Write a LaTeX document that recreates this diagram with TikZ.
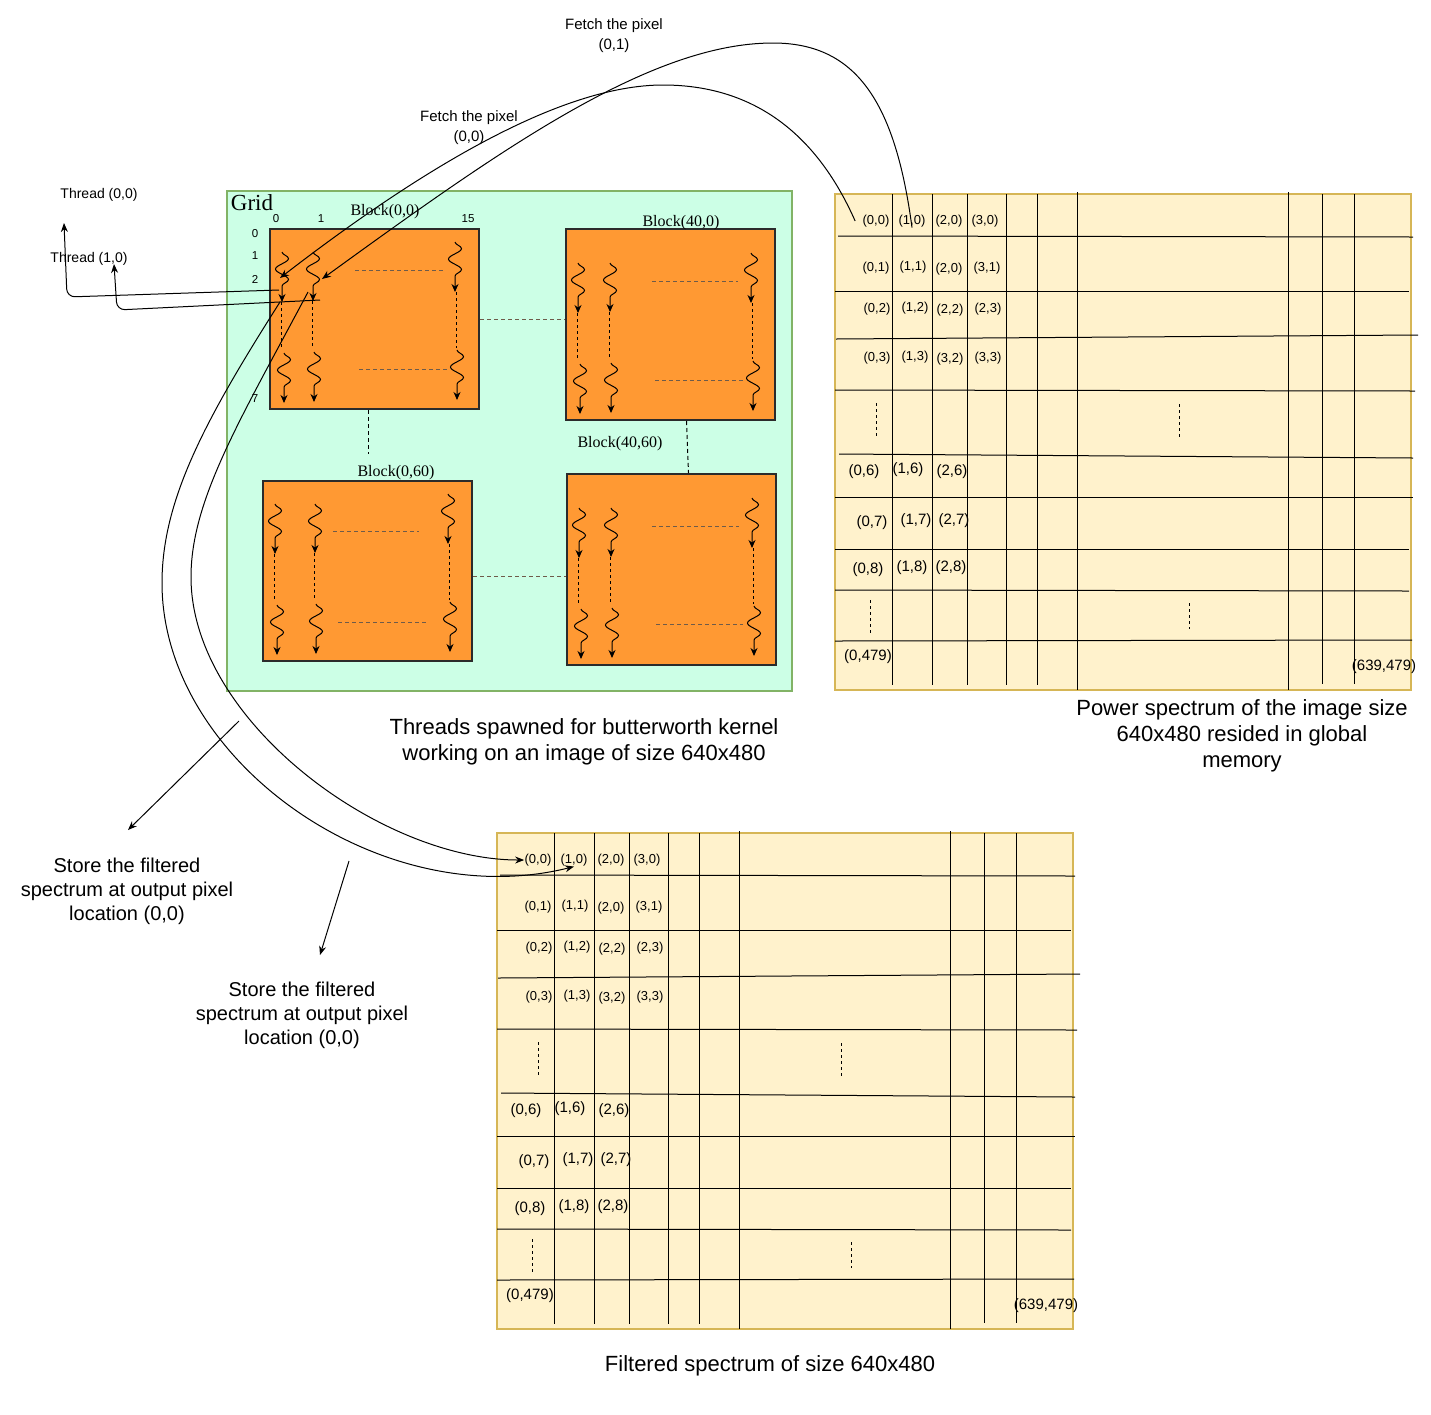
\documentclass[tikz,border=0pt]{standalone}
\usepackage{fontspec}
\setmainfont{Liberation Sans}
\newfontfamily\serifont{Liberation Serif}
\usetikzlibrary{arrows.meta,decorations.pathmorphing}
\definecolor{gridfill}{HTML}{CCFFE6}
\definecolor{gridedge}{HTML}{82B366}
\definecolor{blockfill}{HTML}{FF9933}
\definecolor{blockedge}{HTML}{2B2B2B}
\definecolor{tabfill}{HTML}{FFF2CC}
\definecolor{tabedge}{HTML}{D6B656}
\definecolor{dashc}{HTML}{6E5B4A}
\newcommand\setfs[2]{\fontsize{#1}{#2}\selectfont}
\tikzset{
  gridbox/.style={fill=gridfill,draw=gridedge,line width=2pt},
  blockbox/.style={fill=blockfill,draw=blockedge,line width=2pt,minimum width=209pt,inner sep=0pt},
  tablebox/.style={fill=tabfill,draw=tabedge,line width=2pt},
  tline/.style={draw=black,line width=1pt},
  lbl/.style={inner sep=0pt,font=\setfs{13}{15}},
  lblb/.style={inner sep=0pt,font=\setfs{15}{18}},
  blbl/.style={inner sep=0pt,font=\serifont\setfs{16}{19}},
  tiny/.style={inner sep=0pt,font=\setfs{11.5}{14}},
  wave/.style={decorate,decoration={snake,amplitude=6.5pt,segment length=21pt,post length=8pt},-{Stealth[length=8pt,width=7pt]}},
  tdash/.style={dash pattern=on 3pt off 3pt,line width=1pt},
  hdash/.style={dash pattern=on 4pt off 3pt,draw=dashc,line width=1pt},
  conn/.style={line width=1pt,-{Stealth[length=9pt,width=7pt]}},
}
% threads inside a block: origin x, origin y, column-2 x offset
\newcommand\drawthreads[3]{%
\begin{scope}[shift={(#1,#2)}]
  \draw[wave] (12,23) -- (12,73);
  \draw[tdash] (11,73) -- (11,118);
  \draw[wave] (14,124) -- (14,174);
  \draw[wave] (#3,23) -- (#3,72);
  \draw[tdash] ({#3-1},72) -- ({#3-1},118);
  \draw[wave] ({#3+1},123) -- ({#3+1},173);
  \draw[wave] (185,13) -- (185,63);
  \draw[tdash] (186,63) -- (186,119);
  \draw[wave] (187,121) -- (187,171);
\end{scope}}
% spectrum table: shift x, shift y, name prefix
\newcommand\spectable[3]{%
\begin{scope}[shift={(#1,#2)}]
  \draw[tablebox] (835,194) rectangle (1411,690);
  \foreach \xx/\ya/\yb in {892/194/685,932/194/685,967/194/685,1006/194/685,1037/194/685,1077/192/690,1288/192/690,1322/194/684,1354/194/684}
    \draw[tline] (\xx,\ya) -- (\xx,\yb);
  \draw[tline] (838,236) -- (1413,237);
  \draw[tline] (835,291) -- (1409,291);
  \draw[tline] (836,339) -- (1418,335);
  \draw[tline] (835,390) -- (1415,391);
  \draw[tline] (839,454) -- (1413,458);
  \draw[tline] (835,497) -- (1413,497);
  \draw[tline] (835,549) -- (1409,549);
  \draw[tline] (835,590) -- (1409,591);
  \draw[tline] (835,641) -- (1412,640);
  \node[lbl] (#3-00) at (876,221) {(0,0)};
  \node[lbl] (#3-10) at (912,221) {(1,0)};
  \node[lbl] (#3-20) at (949,221) {(2,0)};
  \node[lbl] (#3-30) at (985,221) {(3,0)};
  \node[lbl] (#3-01) at (876,268) {(0,1)};
  \node[lbl] (#3-11) at (913,267) {(1,1)};
  \node[lbl] (#3-21) at (949,269) {(2,0)};
  \node[lbl] (#3-31) at (987,268) {(3,1)};
  \node[lbl] (#3-02) at (877,309) {(0,2)};
  \node[lbl] (#3-12) at (915,308) {(1,2)};
  \node[lbl] (#3-22) at (950,310) {(2,2)};
  \node[lbl] (#3-32) at (988,309) {(2,3)};
  \node[lbl] (#3-03) at (877,358) {(0,3)};
  \node[lbl] (#3-13) at (915,357) {(1,3)};
  \node[lbl] (#3-23) at (950,359) {(3,2)};
  \node[lbl] (#3-33) at (988,358) {(3,3)};
  \draw[tdash] (876,403) -- (876,438);
  \draw[tdash] (1179,404) -- (1179,437);
  \node[lblb] (#3-06) at (864,472) {(0,6)};
  \node[lblb] (#3-16) at (908,470) {(1,6)};
  \node[lblb] (#3-26) at (952,472) {(2,6)};
  \node[lblb] (#3-07) at (872,523) {(0,7)};
  \node[lblb] (#3-17) at (916,521) {(1,7)};
  \node[lblb] (#3-27) at (954,521) {(2,7)};
  \node[lblb] (#3-08) at (868,570) {(0,8)};
  \node[lblb] (#3-18) at (912,568) {(1,8)};
  \node[lblb] (#3-28) at (951,568) {(2,8)};
  \draw[tdash] (870,600) -- (870,633);
  \draw[tdash] (1189,603) -- (1189,629);
  \node[lblb] (#3-0479) at (868,657) {(0,479)};
  \node[lblb] (#3-last) at (1384,667) {(639,479)};
\end{scope}}
\begin{document}
\begin{tikzpicture}[x=1pt,y=-1pt,line width=1pt]
\useasboundingbox (0,0) rectangle (1431,1414);
\fill[white] (0,0) rectangle (1431,1414);

% ---------- grid ----------
\draw[gridbox] (227,191) rectangle (792,691);
\node[inner sep=0pt,font=\serifont\setfs{23}{26}] (gridlbl) at (252,203) {Grid};

\node[blockbox,minimum height=180pt] (b00) at (374.5,319) {};
\node[blockbox,minimum height=191pt] (b400) at (670.5,324.5) {};
\node[blockbox,minimum height=180pt] (b060) at (367.5,571) {};
\node[blockbox,minimum height=191pt] (b4060) at (671.5,569.5) {};

\node[blbl] (lb00) at (385,212) {Block(0,0)};
\node[blbl] (lb400) at (681,223) {Block(40,0)};
\node[blbl] (lb4060) at (620,444) {Block(40,60)};
\node[blbl] (lb060) at (396,473) {Block(0,60)};

% dashed links between blocks
\draw[hdash] (b00.east) -- (b00.east -| b400.west);
\coordinate (d1) at ([xshift=-6.5pt]b00.south);
\draw[hdash,draw=black] (d1) -- ++(0,44);
\draw[hdash,draw=black] ([xshift=16pt]b400.south) -- ([xshift=17pt]b4060.north);
\draw[hdash] ([yshift=-5pt]b060.east) -- ([yshift=-5pt]b060.east -| b4060.west);

% thread index labels
\node[tiny] (c0) at (276,219) {0};
\node[tiny] (c1) at (321,219) {1};
\node[tiny] (c15) at (468,219) {15};
\node[tiny] (r0) at (255,234) {0};
\node[tiny] (r1) at (255,256) {1};
\node[tiny] (r2) at (255,279) {2};
\node[tiny] (r7) at (255,399) {7};

% threads
\drawthreads{270}{229}{43}
\drawthreads{566}{240}{44}
\drawthreads{263}{481}{52}
\drawthreads{567}{485}{44}

\draw[hdash] (355,270) -- (443,270);
\draw[hdash] (359,369) -- (447,369);
\draw[hdash] (652,281) -- (738,281);
\draw[hdash] (655,380) -- (743,380);
\draw[hdash] (333,531) -- (419,531);
\draw[hdash] (338,622) -- (426,622);
\draw[hdash] (652,526) -- (739,526);
\draw[hdash] (656,624) -- (743,624);

% ---------- tables ----------
\spectable{0}{0}{r}
\spectable{-338}{639}{b}

% ---------- captions ----------
\node[align=center,font=\setfs{22}{26}] (cap1) at (584,742) {Threads spawned for butterworth kernel\\working on an image of size 640x480};
\node[align=center,font=\setfs{22}{26}] (cap2) at (1242,736) {Power spectrum of the image size\\640x480 resided in global\\memory};
\node[font=\setfs{22}{26}] (cap3) at (770,1366) {Filtered spectrum of size 640x480};
\node[align=center,font=\setfs{20}{24}] (st1) at (127,891) {Store the filtered\\spectrum at output pixel\\location (0,0)};
\node[align=center,font=\setfs{20}{24}] (st2) at (302,1015) {Store the filtered\\spectrum at output pixel\\location (0,0)};
\node[align=center,font=\setfs{15}{20}] (f01) at (614,36) {Fetch the pixel\\(0,1)};
\node[align=center,font=\setfs{15}{20}] (f00) at (469,127.5) {Fetch the pixel\\(0,0)};
\node[font=\setfs{14}{17}] (th00) at (99,195) {Thread (0,0)};
\node[font=\setfs{14}{17}] (th10) at (89,259) {Thread (1,0)};

% ---------- connectors ----------
\coordinate (t0) at (280,278);
\coordinate (t1) at (322,279);
\coordinate (s0) at (279,290);
\coordinate (s1) at (320,300);
\coordinate (e0) at (64,223);
\coordinate (e1) at (114,264);
\coordinate (o0) at (280,302);
\coordinate (o1) at (308,292);

\draw[conn] ([xshift=-7pt]r-00.west) .. controls (815,130) and (750,85) .. (663,85)
  .. controls (560,85) and (420,170) .. (t0);
\draw[conn] (r-10.south) .. controls (895,100) and (855,43) .. (773,43)
  .. controls (650,43) and (500,150) .. (t1);

\draw[conn,rounded corners=8pt] (s0) -- (67,297) -- (e0);
\draw[conn,rounded corners=8pt] (s1) -- (117,310) -- (e1);

\draw[conn] (o0) .. controls (205,420) and (162,500) .. (162,583)
  .. controls (162,760) and (380,915) .. (b-10.south);
\draw[conn] (o1) .. controls (240,420) and (191,500) .. (191,577)
  .. controls (191,720) and (380,860) .. (b-00.west);

\coordinate (a1) at (239,721);
\coordinate (a1e) at (128,830);
\coordinate (a2) at (349,861);
\coordinate (a2e) at (320,955);
\draw[conn] (a1) -- (a1e);
\draw[conn] (a2) -- (a2e);
\end{tikzpicture}
\end{document}
